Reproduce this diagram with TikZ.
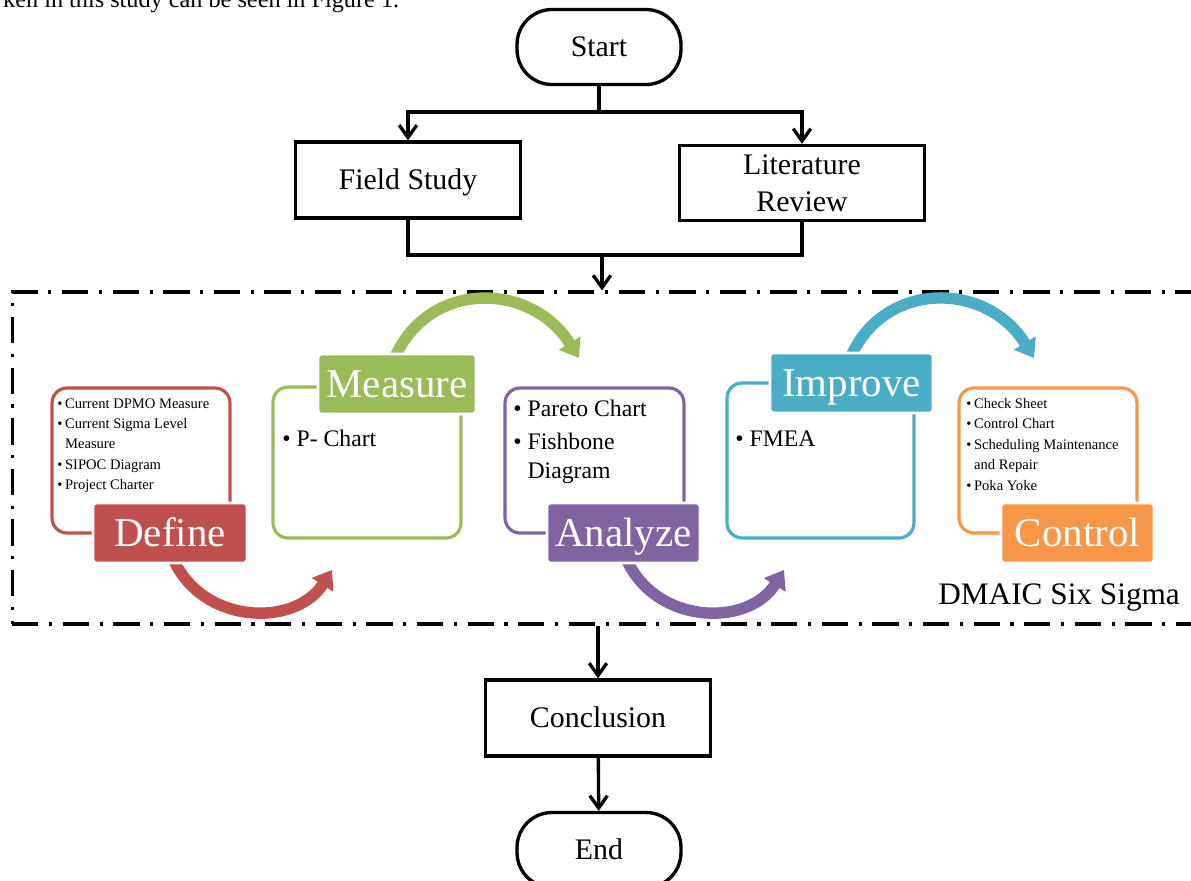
\documentclass[tikz,border=0pt]{standalone}
\usepackage{fontspec}
\setmainfont{Liberation Serif}
\usetikzlibrary{positioning,arrows.meta}

\definecolor{defred}{HTML}{C0504D}
\definecolor{measgreen}{HTML}{9BBB59}
\definecolor{analpurple}{HTML}{8064A2}
\definecolor{imprteal}{HTML}{4BACC6}
\definecolor{ctrlorange}{HTML}{F79646}

\newcommand{\flowfont}{\fontsize{17}{21}\selectfont}
\newcommand{\tagfont}{\fontsize{23.3}{28}\selectfont}
\newcommand{\tinylist}{\fontsize{8.3}{11.6}\selectfont}
\newcommand{\midlist}{\fontsize{13.5}{16.4}\selectfont}

\begin{document}
\begin{tikzpicture}[
    x=0.02cm, y=-0.02cm,
    oneline/.style={text height=11.3pt, text depth=0pt},
    terminal/.style={draw, line width=1.9pt, rounded corners=0.7cm, minimum width=3.28cm, minimum height=1.5cm, font=\flowfont, oneline},
    process/.style={draw, line width=1.9pt, minimum height=1.52cm, font=\flowfont, align=center},
    flow/.style={line width=1.9pt, -{Straight Barb[length=7pt,width=10pt]}},
    dmaicframe/.style={draw, line width=1.8pt, dash pattern=on 15pt off 6pt on 1.8pt off 6pt, minimum width=23.76cm, minimum height=6.64cm},
    phasebox/.style={draw=#1, line width=1.8pt, rounded corners=0.3cm, fill=white},
    phasetag/.style={fill=#1, draw=white, line width=1.5pt, rounded corners=2pt, minimum height=1.2cm, text=white, font=\tagfont, text height=15.4pt, text depth=0pt},
    phaselist/.style={anchor=north west, inner sep=0pt, align=left},
    bigturn/.style={draw=#1, line width=6.5pt, -{Triangle[width=14pt,length=10pt]}}
]
\clip (0,0) rectangle (1191,880);

\node[anchor=base west, font=\fontsize{13.8}{16}\selectfont] (caption) at (-3,7) {ken in this study can be seen in Figure 1.};

% flow chart
\node[terminal] (start) at (599,47) {Start};
\node[process, oneline, minimum width=4.5cm] (field) at (408,180) {Field Study};
\node[process, minimum width=4.9cm, minimum height=1.5cm] (lit) at (802,183) {Literature\\Review};
\node[dmaicframe] (dmaic) at (606,458) {};
\node[process, oneline, minimum width=4.5cm] (conc) at (598,718) {Conclusion};
\node[terminal] (end) at (599,850) {End};

\coordinate (fork) at (599,112);
\coordinate (merge) at (602,255);
\draw[line width=1.9pt] (start) -- (fork);
\draw[flow] (fork) -| (field);
\draw[flow] (fork) -| (lit);
\draw[line width=1.9pt] (field) |- (merge) -| (lit);
\draw[flow] (merge) -- (merge |- dmaic.north);
\draw[flow] (conc |- dmaic.south) -- (conc);
\draw[flow] (conc) -- (end);

\node[anchor=west, inner sep=0pt, font=\fontsize{17.8}{21}\selectfont] (dmaiclabel) at (938,598) {DMAIC Six Sigma};

% phase boxes
\node[phasebox=defred, minimum width=3.56cm, minimum height=2.9cm] (defbox) at (141,460.5) {};
\node[phasebox=measgreen, minimum width=3.76cm, minimum height=3.02cm] (measbox) at (367,462.5) {};
\node[phasebox=analpurple, minimum width=3.58cm, minimum height=2.9cm] (analbox) at (594.5,460.5) {};
\node[phasebox=imprteal, minimum width=3.74cm, minimum height=3.1cm] (imprbox) at (820.5,460.5) {};
\node[phasebox=ctrlorange, minimum width=3.56cm, minimum height=2.9cm] (ctrlbox) at (1048,460.5) {};

\node[phaselist, font=\tinylist] (deflist) at (57,398) {\textbullet\hspace{1.5pt}Current DPMO Measure\\
    \textbullet\hspace{1.5pt}Current Sigma Level\\
    \hphantom{\textbullet\hspace{1.5pt}}Measure\\
    \textbullet\hspace{1.5pt}SIPOC Diagram\\
    \textbullet\hspace{1.5pt}Project Charter};
\node[phaselist, font=\midlist] (measlist) at (282,430) {\textbullet\ P- Chart};
\node[phaselist, font=\midlist] (anallist) at (513,400) {\textbullet\ Pareto Chart\\[2.3pt]
    \textbullet\ Fishbone\\
    \hphantom{\textbullet\ }Diagram};
\node[phaselist, font=\midlist] (imprlist) at (735,430) {\textbullet\ FMEA};
\node[phaselist, font=\tinylist] (ctrllist) at (966,398) {\textbullet\hspace{1.5pt}Check Sheet\\
    \textbullet\hspace{1.5pt}Control Chart\\
    \textbullet\hspace{1.5pt}Scheduling Maintenance\\
    \hphantom{\textbullet\hspace{1.5pt}}and Repair\\
    \textbullet\hspace{1.5pt}Poka Yoke};

% turning arrows
\draw[bigturn=defred] (172,556) .. controls (200,625) and (295,628) .. (332,570);
\draw[bigturn=measgreen] (393,362) .. controls (425,280) and (530,280) .. (579,358);
\draw[bigturn=analpurple] (625,556) .. controls (653,625) and (748,628) .. (784,570);
\draw[bigturn=imprteal] (849,361) .. controls (881,280) and (986,280) .. (1034,358);

% phase tags
\node[phasetag=defred, minimum width=3.08cm] (deftag) at (170,533) {Define};
\node[phasetag=measgreen, minimum width=3.16cm] (meastag) at (397,384) {Measure};
\node[phasetag=analpurple, minimum width=3.06cm] (analtag) at (623.5,533) {Analyze};
\node[phasetag=imprteal, minimum width=3.26cm] (imprtag) at (851.5,383) {Improve};
\node[phasetag=ctrlorange, minimum width=3.06cm] (ctrltag) at (1077.5,533) {Control};

\end{tikzpicture}
\end{document}
